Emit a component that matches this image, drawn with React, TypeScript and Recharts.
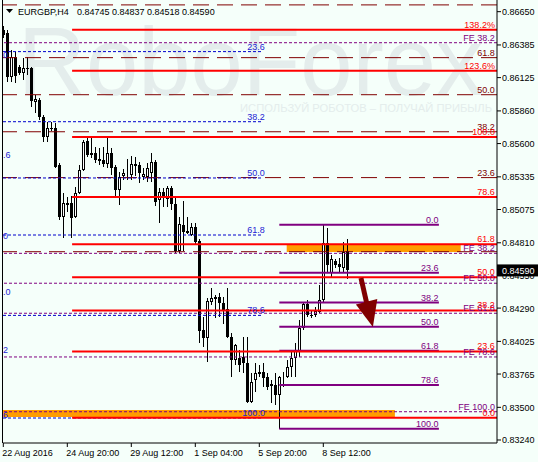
import React from "react";
import {
  ComposedChart,
  Bar,
  XAxis,
  YAxis,
  ReferenceLine,
  ReferenceArea,
  ReferenceDot,
} from "recharts";

// ---- EURGBP H4 candles (bar index = position in arrays) ----
const opens = [
  0.86504, 0.8648, 0.8613, 0.86289, 0.8621, 0.86162, 0.86202, 0.86202, 0.85931, 0.85947,
  0.85812, 0.85652, 0.85724, 0.85724, 0.85429, 0.85015, 0.85127, 0.85127, 0.85015, 0.85207,
  0.8539, 0.85621, 0.85525, 0.85525, 0.85477, 0.85469, 0.85437, 0.85525, 0.85414, 0.8523,
  0.85342, 0.85358, 0.8535, 0.85437, 0.85429, 0.85334, 0.85334, 0.85366, 0.85453, 0.85151,
  0.85215, 0.85159, 0.85246, 0.85119, 0.84745, 0.84952, 0.84904, 0.84872, 0.84936, 0.84824,
  0.84116, 0.84052, 0.84339, 0.84379, 0.84379, 0.84331, 0.84283, 0.8406, 0.83877, 0.83893,
  0.83901, 0.83853, 0.83543, 0.83718, 0.83765, 0.83781, 0.83742, 0.83686, 0.83678, 0.83598,
  0.83742, 0.83742, 0.83821, 0.83893, 0.83941, 0.84132, 0.84323, 0.84235, 0.84235, 0.84259,
  0.84355, 0.84808, 0.8457, 0.84665, 0.84641, 0.84609, 0.84745,
];
const highs = [
  0.86536, 0.86504, 0.86345, 0.86329, 0.86226, 0.86281, 0.86289, 0.8621, 0.85987, 0.85963,
  0.85828, 0.85772, 0.85772, 0.85764, 0.85445, 0.85207, 0.85175, 0.85183, 0.85254, 0.85429,
  0.85629, 0.85652, 0.8566, 0.85573, 0.85565, 0.85573, 0.85652, 0.85565, 0.85429, 0.85374,
  0.85398, 0.85477, 0.85501, 0.85493, 0.85453, 0.85406, 0.85445, 0.85525, 0.85469, 0.85246,
  0.85246, 0.85262, 0.85262, 0.85175, 0.85015, 0.85143, 0.85015, 0.84968, 0.84968, 0.8484,
  0.84219, 0.84371, 0.8445, 0.84394, 0.8441, 0.84379, 0.8445, 0.84092, 0.84004, 0.83957,
  0.8406, 0.8406, 0.83773, 0.83853, 0.83837, 0.83853, 0.83773, 0.83718, 0.83773, 0.8375,
  0.83781, 0.83877, 0.83957, 0.84012, 0.84195, 0.84339, 0.84355, 0.84275, 0.84299, 0.84474,
  0.84952, 0.84928, 0.84713, 0.84681, 0.84689, 0.84816, 0.84837,
];
const lows = [
  0.86441, 0.8609, 0.8609, 0.86082, 0.86146, 0.86106, 0.86146, 0.85891, 0.85844, 0.85788,
  0.85613, 0.85613, 0.857, 0.85406, 0.84992, 0.84848, 0.85055, 0.84848, 0.85008, 0.85199,
  0.85382, 0.85493, 0.85485, 0.85445, 0.85429, 0.85414, 0.85406, 0.8535, 0.85183, 0.85111,
  0.8531, 0.8531, 0.8531, 0.85342, 0.85286, 0.8531, 0.85294, 0.85294, 0.85103, 0.84968,
  0.85095, 0.85095, 0.85071, 0.84729, 0.84729, 0.84745, 0.8488, 0.84864, 0.848, 0.84012,
  0.8398, 0.83861, 0.84315, 0.84211, 0.84219, 0.84163, 0.84052, 0.83742, 0.83837, 0.83781,
  0.83773, 0.83535, 0.83535, 0.83622, 0.83742, 0.83662, 0.83638, 0.83535, 0.83519, 0.8333,
  0.83662, 0.83734, 0.83742, 0.83742, 0.83901, 0.84116, 0.84219, 0.84211, 0.84219, 0.84251,
  0.84339, 0.8457, 0.8453, 0.84609, 0.84578, 0.84578, 0.84518,
];
const closes = [
  0.86465, 0.8613, 0.86289, 0.86138, 0.86162, 0.86202, 0.86194, 0.85939, 0.85955, 0.85812,
  0.85652, 0.85724, 0.85716, 0.85414, 0.85015, 0.85127, 0.85111, 0.85008, 0.85207, 0.8539,
  0.85613, 0.85509, 0.85509, 0.85469, 0.85461, 0.85437, 0.85525, 0.85406, 0.8523, 0.85334,
  0.85366, 0.85366, 0.85437, 0.85422, 0.85366, 0.85358, 0.85406, 0.85453, 0.85135, 0.85215,
  0.85167, 0.85246, 0.85119, 0.84745, 0.8496, 0.84896, 0.84888, 0.84936, 0.84816, 0.84108,
  0.84052, 0.84347, 0.84371, 0.84363, 0.84331, 0.84275, 0.8406, 0.83877, 0.83996, 0.83837,
  0.83853, 0.83543, 0.83702, 0.83773, 0.83781, 0.83734, 0.83662, 0.8367, 0.83598, 0.83742,
  0.8375, 0.83821, 0.83893, 0.83957, 0.84132, 0.84323, 0.84235, 0.84227, 0.84267, 0.84355,
  0.84808, 0.84633, 0.84681, 0.84633, 0.84617, 0.84737, 0.8459,
];

// ---- axes ----
const timeTicks = [0, 16, 32, 48, 64, 80];
const timeLabels = ["22 Aug 2016", "24 Aug 20:00", "29 Aug 12:00", "1 Sep 04:00", "5 Sep 20:00", "8 Sep 12:00"];
const priceTicks = [
  0.8665, 0.86385, 0.86125, 0.8586, 0.856, 0.85335, 0.85075, 0.8481, 0.8455, 0.8429,
  0.84025, 0.83765, 0.835, 0.8324,
];

// ---- drawing objects (levels in price, anchors in bar index) ----
const redLabels = ["0.0", "23.6", "38.2", "50.0", "61.8", "78.6", "100.0", "123.6%", "138.2%"];
const redPrices = [0.83417, 0.83945, 0.84271, 0.84535, 0.84798, 0.85174, 0.85652, 0.86179, 0.86506];
const redStart = 17.2;

// the 0.0 and 78.6 captions of this set sit off-screen / under other objects
const maroonLabels = ["", "23.6", "38.2", "50.0", "61.8", ""];
const maroonPrices = [0.84739, 0.85329, 0.85694, 0.85989, 0.86284, 0.86704];

const blueLabels = ["23.6", "38.2", "50.0", "61.8", "78.6", "100.0"];
const bluePrices = [0.86332, 0.85774, 0.85326, 0.84872, 0.84232, 0.83415];
const blueEnd = 64.9;
const blueLabelAt = 65.4;

const feLabels = ["FE 38.2", "FE 38.2", "FE 50.0", "FE 61.8", "FE 78.6", "FE 100.0"];
const fePrices = [0.86403, 0.84726, 0.84488, 0.84249, 0.83901, 0.83465];

const violetLabels = ["0.0", "23.6", "38.2", "50.0", "61.8", "78.6", "100.0"];
const violetPrices = [0.84954, 0.84571, 0.84334, 0.84142, 0.8395, 0.83677, 0.8333];
const violetStart = 69;
const violetEnd = 108.9;
const violetLabelAt = 108.8;

const zones = [
  { x1: 70.85, x2: 114.35, y1: 0.84737, y2: 0.84796 },
  { x1: -0.075, x2: 97.9, y1: 0.83423, y2: 0.83479 },
];

const arrowTail = { x: 89.42, y: 0.8453 };
const arrowNeck = { x: 90.9, y: 0.84323 };
const arrowTip = { x: 92.4, y: 0.8414 };

const X_DOMAIN: [number, number] = [-0.075, 123.425];
const Y_DOMAIN: [number, number] = [0.83216, 0.86743];
const RIGHT_LABEL_AT = 122.9;

const BG = "#F5FFFA";
const FONT = "'Liberation Sans', Arial, sans-serif";
const RED = "#FF0000";
const MAROON = "#800000";
const VIOLET = "#800080";
const BLUE = "#0000CD";
const BLUE_TEXT = "#2424D4";
const ORANGE = "#FF9C00";

const last = closes.length - 1;
const lastClose = closes[last];

const rows = opens.map((o, i) => ({
  i,
  o,
  h: highs[i],
  l: lows[i],
  c: closes[i],
  range: [lows[i], highs[i]],
}));

function Candle(props: any) {
  const { x, y, width, height, payload } = props;
  if (x == null || y == null || !payload) return null;
  const { o, h, l, c } = payload;
  const top = Math.min(y, y + height);
  const bottom = Math.max(y, y + height);
  const span = h - l;
  const py = (v: number) => (span > 0 ? top + ((h - v) / span) * (bottom - top) : top);
  const cx = Math.floor(x + width / 2) + 0.5;
  const bTop = Math.round(py(Math.max(o, c)));
  const bBot = Math.round(py(Math.min(o, c)));
  const bull = c > o;
  return (
    <g>
      <line x1={cx} x2={cx} y1={Math.round(top)} y2={Math.round(bottom)} stroke="#000" strokeWidth={1} />
      {bull ? (
        <rect
          x={cx - 1}
          y={bTop + 0.5}
          width={2}
          height={Math.max(bBot - bTop - 1, 0)}
          fill="#FFFFFF"
          stroke="#000"
          strokeWidth={1}
        />
      ) : (
        <rect x={cx - 1.5} y={bTop} width={3} height={Math.max(bBot - bTop, 1)} fill="#000" />
      )}
    </g>
  );
}

const levelText = (text: string, color: string) => (p: any) =>
  p.cx == null ? null : (
    <text x={p.cx} y={p.cy - 2} textAnchor="end" fontSize={9} fontFamily={FONT} fill={color}>
      {text}
    </text>
  );

const arrowHead = (p: any) =>
  p.cx == null ? null : (
    <polygon
      points={`${p.cx},${p.cy} ${p.cx + 4.4},${p.cy - 27.9} ${p.cx - 17},${p.cy - 22.5}`}
      fill={MAROON}
    />
  );

function TimeTick(p: any) {
  const idx = timeTicks.indexOf(p.payload.value);
  return (
    <text x={p.x - 1} y={p.y + 7} fontSize={9} fontFamily={FONT} fill="#000" textAnchor="start">
      {idx >= 0 ? timeLabels[idx] : ""}
    </text>
  );
}

function PriceTick(p: any) {
  const v = p.payload.value;
  if (Math.abs(v - lastClose) < 1e-9) {
    return (
      <g>
        <rect x={p.x - 6} y={p.y - 6} width={42} height={12} fill="#000" />
        <text x={p.x - 1} y={p.y + 3.5} fontSize={9} fontFamily={FONT} fill="#FFF">
          {v.toFixed(5)}
        </text>
      </g>
    );
  }
  return (
    <text x={p.x - 1} y={p.y + 3.5} fontSize={9} fontFamily={FONT} fill="#000">
      {v.toFixed(5)}
    </text>
  );
}

const edgeMarks = [
  { y: 58, t: "0" },
  { y: 158, t: ".6" },
  { y: 239, t: "0" },
  { y: 295, t: ".0" },
  { y: 353, t: "2" },
  { y: 418, t: "6" },
];

export default function App() {
  const priceTickList = [...priceTicks, lastClose];
  return (
    <div
      style={{
        position: "absolute",
        left: 0,
        top: 0,
        width: 538,
        height: 462,
        background: BG,
        overflow: "hidden",
      }}
    >
      <svg width={538} height={462} style={{ position: "absolute", left: 0, top: 0 }}>
        <text
          x={18}
          y={95}
          fontSize={96}
          fontFamily={FONT}
          fill="#E4EDEC"
          textLength={465}
          lengthAdjust="spacingAndGlyphs"
        >
          RoboForex
        </text>
        <text
          x={240}
          y={112}
          fontSize={10}
          fontFamily={FONT}
          fill="#E4EDEC"
          textLength={252}
          lengthAdjust="spacingAndGlyphs"
        >
          ИСПОЛЬЗУЙ РОБОТОВ – ПОЛУЧАЙ ПРИБЫЛЬ
        </text>
      </svg>

      <div style={{ position: "absolute", left: 0, top: 0 }}>
        <ComposedChart
          width={538}
          height={462}
          data={rows}
          margin={{ top: 0, right: 0, bottom: 0, left: 3 }}
        >
          <XAxis
            dataKey="i"
            type="number"
            domain={X_DOMAIN}
            allowDataOverflow
            ticks={timeTicks}
            interval={0}
            height={19}
            tickSize={4}
            tickMargin={2}
            axisLine={{ stroke: "#000" }}
            tickLine={{ stroke: "#000" }}
            tick={<TimeTick />}
          />
          <YAxis
            orientation="right"
            type="number"
            domain={Y_DOMAIN}
            allowDataOverflow
            ticks={priceTickList}
            interval={0}
            width={41}
            tickSize={4}
            tickMargin={2}
            axisLine={{ stroke: "#000" }}
            tickLine={{ stroke: "#000" }}
            tick={<PriceTick />}
          />

          {zones.map((z, k) => (
            <ReferenceArea
              key={`z${k}`}
              x1={z.x1}
              x2={z.x2}
              y1={z.y1}
              y2={z.y2}
              fill={ORANGE}
              fillOpacity={1}
              stroke="none"
              ifOverflow="visible"
            />
          ))}

          {maroonPrices.map((v, k) => (
            <ReferenceLine key={`m${k}`} y={v} stroke={MAROON} strokeWidth={1} strokeDasharray="16 8" ifOverflow="visible" />
          ))}
          {bluePrices.map((v, k) => (
            <ReferenceLine
              key={`b${k}`}
              segment={[
                { x: X_DOMAIN[0], y: v },
                { x: blueEnd, y: v },
              ]}
              stroke={BLUE}
              strokeWidth={1}
              strokeDasharray="3 2"
              ifOverflow="visible"
            />
          ))}
          {fePrices.map((v, k) => (
            <ReferenceLine key={`f${k}`} y={v} stroke={VIOLET} strokeWidth={1} strokeDasharray="3 2" ifOverflow="visible" />
          ))}
          {violetPrices.map((v, k) => (
            <ReferenceLine
              key={`v${k}`}
              segment={[
                { x: violetStart, y: v },
                { x: violetEnd, y: v },
              ]}
              stroke={VIOLET}
              strokeWidth={2}
              ifOverflow="visible"
            />
          ))}
          {redPrices.map((v, k) => (
            <ReferenceLine
              key={`r${k}`}
              segment={[
                { x: redStart, y: v },
                { x: X_DOMAIN[1], y: v },
              ]}
              stroke={RED}
              strokeWidth={2}
              ifOverflow="visible"
            />
          ))}

          <Bar dataKey="range" barSize={4} shape={<Candle />} isAnimationActive={false} />

          <ReferenceLine
            segment={[arrowTail, arrowNeck]}
            stroke={MAROON}
            strokeWidth={5}
            ifOverflow="visible"
          />
          <ReferenceDot x={arrowTip.x} y={arrowTip.y} r={0} shape={arrowHead} ifOverflow="visible" />

          {maroonPrices.map((v, k) =>
            maroonLabels[k] ? (
              <ReferenceDot key={`ml${k}`} x={RIGHT_LABEL_AT} y={v} r={0} shape={levelText(maroonLabels[k], MAROON)} ifOverflow="visible" />
            ) : null
          )}
          {fePrices.map((v, k) => (
            <ReferenceDot key={`fl${k}`} x={RIGHT_LABEL_AT} y={v} r={0} shape={levelText(feLabels[k], VIOLET)} ifOverflow="visible" />
          ))}
          {bluePrices.map((v, k) => (
            <ReferenceDot key={`bl${k}`} x={blueLabelAt} y={v} r={0} shape={levelText(blueLabels[k], BLUE_TEXT)} ifOverflow="visible" />
          ))}
          {violetPrices.map((v, k) => (
            <ReferenceDot key={`vl${k}`} x={violetLabelAt} y={v} r={0} shape={levelText(violetLabels[k], VIOLET)} ifOverflow="visible" />
          ))}
          {redPrices.map((v, k) => (
            <ReferenceDot key={`rl${k}`} x={RIGHT_LABEL_AT} y={v} r={0} shape={levelText(redLabels[k], RED)} ifOverflow="visible" />
          ))}
        </ComposedChart>
      </div>

      <svg width={538} height={462} style={{ position: "absolute", left: 0, top: 0, pointerEvents: "none" }}>
        <line x1={2.5} x2={2.5} y1={0} y2={443} stroke="#000" strokeWidth={1} />
        {edgeMarks.map((m, k) => (
          <text key={k} x={3} y={m.y} fontSize={9} fontFamily={FONT} fill={BLUE_TEXT}>
            {m.t}
          </text>
        ))}
        <polygon points="6,9 13,9 9.5,13" fill="#000" />
        <text x={18} y={14.5} fontSize={9} fontFamily={FONT} fill="#000">
          EURGBP,H4
        </text>
        <text x={77} y={14.5} fontSize={9} fontFamily={FONT} fill="#000">
          {`${opens[last].toFixed(5)} ${highs[last].toFixed(5)} ${lows[last].toFixed(5)} ${closes[last].toFixed(5)}`}
        </text>
      </svg>
    </div>
  );
}
